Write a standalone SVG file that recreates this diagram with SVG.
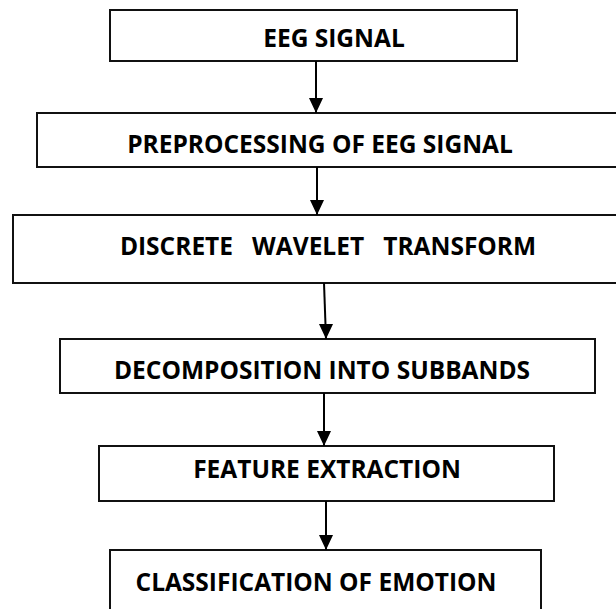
<svg xmlns="http://www.w3.org/2000/svg" width="616" height="609" viewBox="0 0 616 609">
  <style>
    .box { fill: #ffffff; stroke: #111111; stroke-width: 2; }
    .lbl { font-family: "Open Sans", "Liberation Sans", sans-serif; font-weight: bold; font-size: 24.5px; fill: #000000; text-anchor: middle; white-space: pre; }
    .conn { stroke: #000000; stroke-width: 2; fill: none; marker-end: url(#arrow); }
  </style>
  <defs>
    <marker id="arrow" markerUnits="userSpaceOnUse" markerWidth="14" markerHeight="16" refX="7" refY="15" orient="auto-start-reverse" viewBox="0 0 14 16">
      <path d="M0,0 L14,0 L7,15 Z" fill="#000000" transform="rotate(-90 7 7.5)"/>
    </marker>
  </defs>
  <rect width="616" height="609" fill="#ffffff"/>
  <g id="n1">
    <rect class="box" x="110" y="10" width="407" height="51"/>
    <text class="lbl" x="334" y="47">EEG SIGNAL</text>
  </g>
  <g id="n2">
    <rect class="box" x="37" y="113" width="600" height="54"/>
    <text class="lbl" x="320" y="153">PREPROCESSING OF EEG SIGNAL</text>
  </g>
  <g id="n3">
    <rect class="box" x="13" y="215" width="620" height="68"/>
    <text class="lbl" x="328" y="255">DISCRETE   WAVELET   TRANSFORM</text>
  </g>
  <g id="n4">
    <rect class="box" x="60" y="339" width="535" height="54"/>
    <text class="lbl" x="322" y="379">DECOMPOSITION INTO SUBBANDS</text>
  </g>
  <g id="n5">
    <rect class="box" x="99" y="446" width="455" height="55"/>
    <text class="lbl" x="327" y="478">FEATURE EXTRACTION</text>
  </g>
  <g id="n6">
    <rect class="box" x="110" y="550" width="431" height="70"/>
    <text class="lbl" x="316" y="591">CLASSIFICATION OF EMOTION</text>
  </g>
  <g id="connectors">
    <path d="M0,0" fill="none"/>
    <line x1="316" y1="61" x2="316" y2="113" stroke="#000" stroke-width="2"/>
    <path d="M309,98 L323,98 L316,113 Z" fill="#000"/>
    <line x1="317" y1="167" x2="317" y2="215" stroke="#000" stroke-width="2"/>
    <path d="M310,200 L324,200 L317,215 Z" fill="#000"/>
    <line x1="324" y1="283" x2="326" y2="339" stroke="#000" stroke-width="2"/>
    <path d="M319,324 L333,324 L326,339 Z" fill="#000"/>
    <line x1="324" y1="393" x2="324" y2="446" stroke="#000" stroke-width="2"/>
    <path d="M317,431 L331,431 L324,446 Z" fill="#000"/>
    <line x1="326" y1="501" x2="326" y2="550" stroke="#000" stroke-width="2"/>
    <path d="M319,535 L333,535 L326,550 Z" fill="#000"/>
  </g>
</svg>
